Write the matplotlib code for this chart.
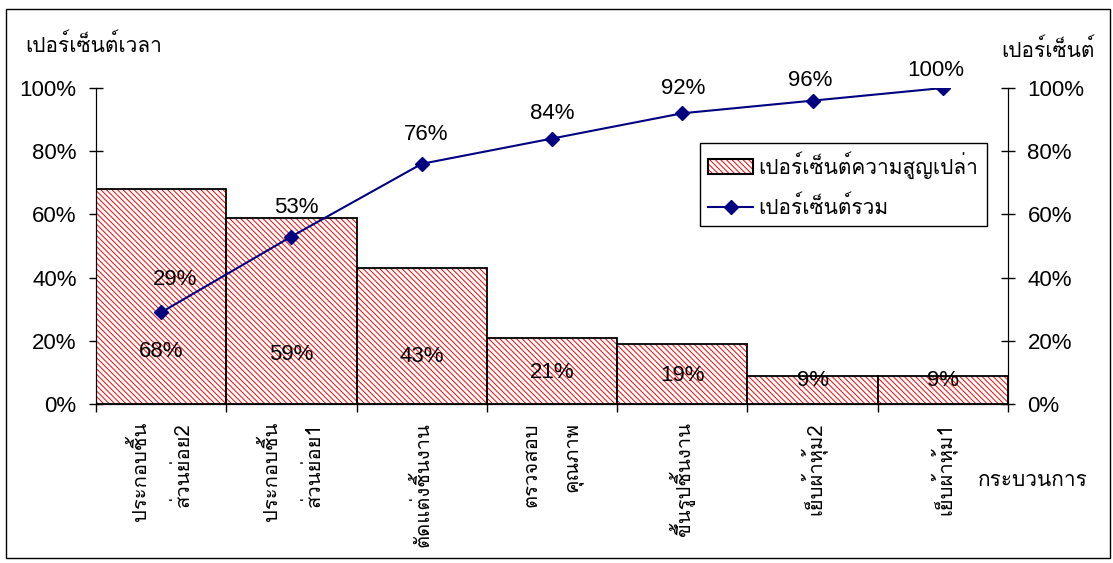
import matplotlib
matplotlib.use('Agg')
import matplotlib.pyplot as plt
from matplotlib import font_manager
from matplotlib.ft2font import FT2Font
from matplotlib.patches import Patch, Rectangle
from matplotlib.lines import Line2D
from matplotlib.legend_handler import HandlerTuple
from matplotlib.ticker import FixedLocator, NullFormatter, FixedFormatter

# data
categories = ['ประกอบชิ้น\nส่วนย่อย2', 'ประกอบชิ้น\nส่วนย่อย1', 'ตัดแต่งชิ้นงาน',
              'ตรวจสอบ\nคุณภาพ', 'ขึ้นรูปชิ้นงาน', 'เย็บผ้าหุ้ม2', 'เย็บผ้าหุ้ม1']
waste_pct = [68, 59, 43, 21, 19, 9, 9]
cum_pct = [29, 53, 76, 84, 92, 96, 100]
y_ticks = [0, 20, 40, 60, 80, 100]

# label placement (pixels / data units)
bar_label_y = [16.5, 15.8, 15, 10, 9, 7.5, 7.5]
cum_label_off = [(14, 33), (5, 29), (4, 29), (0, 25), (1, 25), (-2, 20), (-7, 18)]


def thai_fonts():
    names = []
    for f in font_manager.fontManager.ttflist:
        try:
            cmap = FT2Font(f.fname).get_charmap()
        except Exception:
            continue
        if 0x0E01 in cmap and f.name not in names:
            names.append(f.name)
    return names


found = thai_fonts()
thai = 'Loma' if 'Loma' in found else (found[0] if found else 'DejaVu Sans')
plt.rcParams['font.family'] = [thai, 'Liberation Sans', 'DejaVu Sans']
plt.rcParams['hatch.linewidth'] = 0.7
HATCH = '\\' * 6
NUM_FONT = 'Liberation Sans'
NUM_SIZE = 16

fig = plt.figure(figsize=(11.13, 5.63), dpi=100)
ax = fig.add_axes([96 / 1113, 1 - 404 / 563, 912 / 1113, 316 / 563])
ax2 = ax.twinx()

x = list(range(len(categories)))
ax.bar(x, waste_pct, width=1.0, color='white', edgecolor='red',
       hatch=HATCH, linewidth=0, zorder=2)
ax.bar(x, waste_pct, width=1.0, color='none', edgecolor='black',
       linewidth=1.3, zorder=3)

for i, v in enumerate(waste_pct):
    ax.text(i, bar_label_y[i], f'{v}%', ha='center', va='center',
            fontsize=NUM_SIZE, family=NUM_FONT, zorder=5)

ax2.plot(x, cum_pct, color='#000080', marker='D', markersize=7, linewidth=1.5,
         zorder=4)
for i, v in enumerate(cum_pct):
    ax2.annotate(f'{v}%', (i, v), xytext=cum_label_off[i], textcoords='offset pixels',
                 ha='center', va='center', fontsize=NUM_SIZE, family=NUM_FONT)

for a in (ax, ax2):
    a.set_xlim(-0.5, len(categories) - 0.5)
    a.set_ylim(0, 100)
    a.set_yticks(y_ticks)
    a.set_yticklabels([f'{t}%' for t in y_ticks], family=NUM_FONT,
                      fontsize=NUM_SIZE)
    a.spines['top'].set_visible(False)
ax.set_zorder(1)
ax2.set_zorder(2)
ax2.patch.set_visible(False)
ax.tick_params(axis='y', direction='inout', length=10, width=1, pad=9)
ax2.tick_params(axis='y', direction='inout', length=10, width=1, pad=9)

ax.xaxis.set_major_locator(FixedLocator([i - 0.5 for i in range(len(categories) + 1)]))
ax.xaxis.set_major_formatter(NullFormatter())
ax.xaxis.set_minor_locator(FixedLocator(x))
ax.xaxis.set_minor_formatter(FixedFormatter(categories))
ax.tick_params(axis='x', which='major', direction='out', length=6, width=1)
ax.tick_params(axis='x', which='minor', length=0, pad=13)
for lbl in ax.get_xticklabels(minor=True):
    lbl.set_rotation(90)
    lbl.set_va('top')
    lbl.set_ha('center')
    lbl.set_multialignment('right')
    lbl.set_linespacing(2.45)
    lbl.set_fontsize(14.5)

fig.text(25 / 1113, 1 - 45 / 563, 'เปอร์เซ็นต์เวลา', ha='left', va='center',
         fontsize=15)
fig.text(1095 / 1113, 1 - 50 / 563, 'เปอร์เซ็นต์', ha='right', va='center',
         fontsize=15)
fig.text(1088 / 1113, 1 - 481 / 563, 'กระบวนการ', ha='right', va='center',
         fontsize=15)

bar_handle = (Patch(facecolor='white', edgecolor='red', hatch=HATCH, linewidth=0),
              Patch(facecolor='none', edgecolor='black', linewidth=1.5))
line_handle = Line2D([], [], color='#000080', marker='D', markersize=7, linewidth=1.5)
leg = ax2.legend([bar_handle, line_handle],
                 ['เปอร์เซ็นต์ความสูญเปล่า', 'เปอร์เซ็นต์รวม'],
                 handler_map={tuple: HandlerTuple(ndivide=1, pad=0)},
                 loc='upper left', bbox_to_anchor=(700 / 1113, 1 - 143 / 563),
                 bbox_transform=fig.transFigure, borderaxespad=0, fontsize=15,
                 frameon=True, fancybox=False, edgecolor='black', framealpha=1,
                 handlelength=2.15, handletextpad=0.25, borderpad=0.4,
                 labelspacing=0.8)
leg.get_frame().set_linewidth(1)

fig.patches.append(Rectangle((6 / 1113, 1 - 558 / 563), 1104 / 1113, 549 / 563,
                             transform=fig.transFigure, fill=False,
                             edgecolor='black', linewidth=1))

fig.savefig('out.png', dpi=100)
